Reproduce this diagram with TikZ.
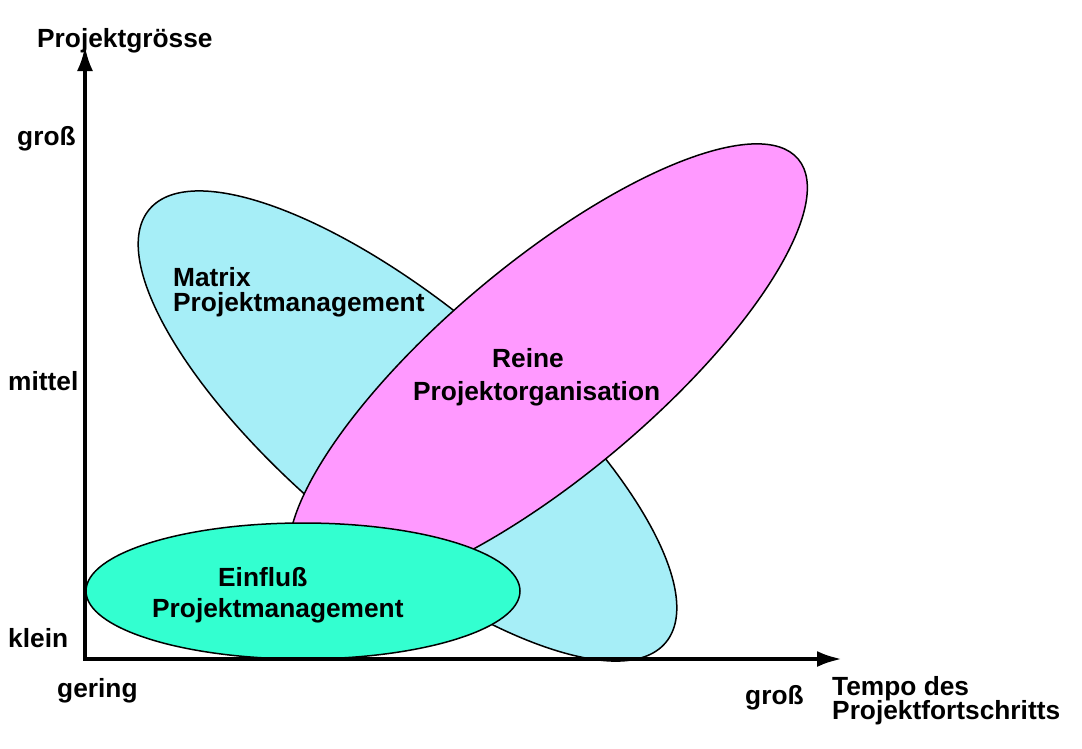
\documentclass[tikz,border=0pt]{standalone}
\usepackage{fontspec}
\setmainfont{Liberation Sans}
\usetikzlibrary{arrows.meta}
\definecolor{matrixcyan}{RGB}{166,238,247}
\definecolor{reinepink}{RGB}{255,153,255}
\definecolor{einflussgreen}{RGB}{51,255,208}
\tikzset{
  blob/.style={draw=black, line width=1.5pt},
  lbl/.style={font=\bfseries\fontsize{26.3}{30}\selectfont, inner sep=0pt, anchor=base west},
  axis/.style={line width=4pt, {Latex[length=25pt,width=16pt]}-{Latex[length=25pt,width=16pt]}}
}
\begin{document}
\begin{tikzpicture}[x=1pt,y=-1pt]
\useasboundingbox (0,0) rectangle (1082,748);
% Matrix (cyan)
\coordinate (mc) at (407.5,426);
\draw[blob, fill=matrixcyan, rotate around={-40:(mc)}] (mc) ellipse [x radius=337pt, y radius=119pt];
% Reine (magenta)
\coordinate (rc) at (548,369);
\draw[blob, fill=reinepink, rotate around={40:(rc)}] (rc) ellipse [x radius=326.6pt, y radius=106pt];
% Einfluss (green)
\coordinate (ec) at (303,591);
\draw[blob, fill=einflussgreen] (ec) ellipse [x radius=217pt, y radius=68pt];
% axes
\coordinate (ytip) at (85,46);
\coordinate (origin) at (85,659);
\coordinate (xtip) at (842,659);
\draw[axis] (ytip) -- (origin) -- (xtip);
% labels
\node[lbl] (ylabel) at (37,47) {Projektgrösse};
\node[lbl] (ygross) at (17,145) {groß};
\node[lbl] (ymittel) at (8,390) {mittel};
\node[lbl] (yklein) at (8,647) {klein};
\node[lbl] (xgering) at (57,697) {gering};
\node[lbl] (xgross) at (745,704) {groß};
\node[lbl] (xlabelA) at (832,695) {Tempo des};
\node[lbl] (xlabelB) at (832,719) {Projektfortschritts};
\node[lbl] (matrixA) at (173,286) {Matrix};
\node[lbl] (matrixB) at (173,311) {Projektmanagement};
\node[lbl] (reineA) at (492,367) {Reine};
\node[lbl] (reineB) at (413,400) {Projektorganisation};
\node[lbl] (einflA) at (218,586) {Einfluß};
\node[lbl] (einflB) at (152,617) {Projektmanagement};
\end{tikzpicture}
\end{document}
